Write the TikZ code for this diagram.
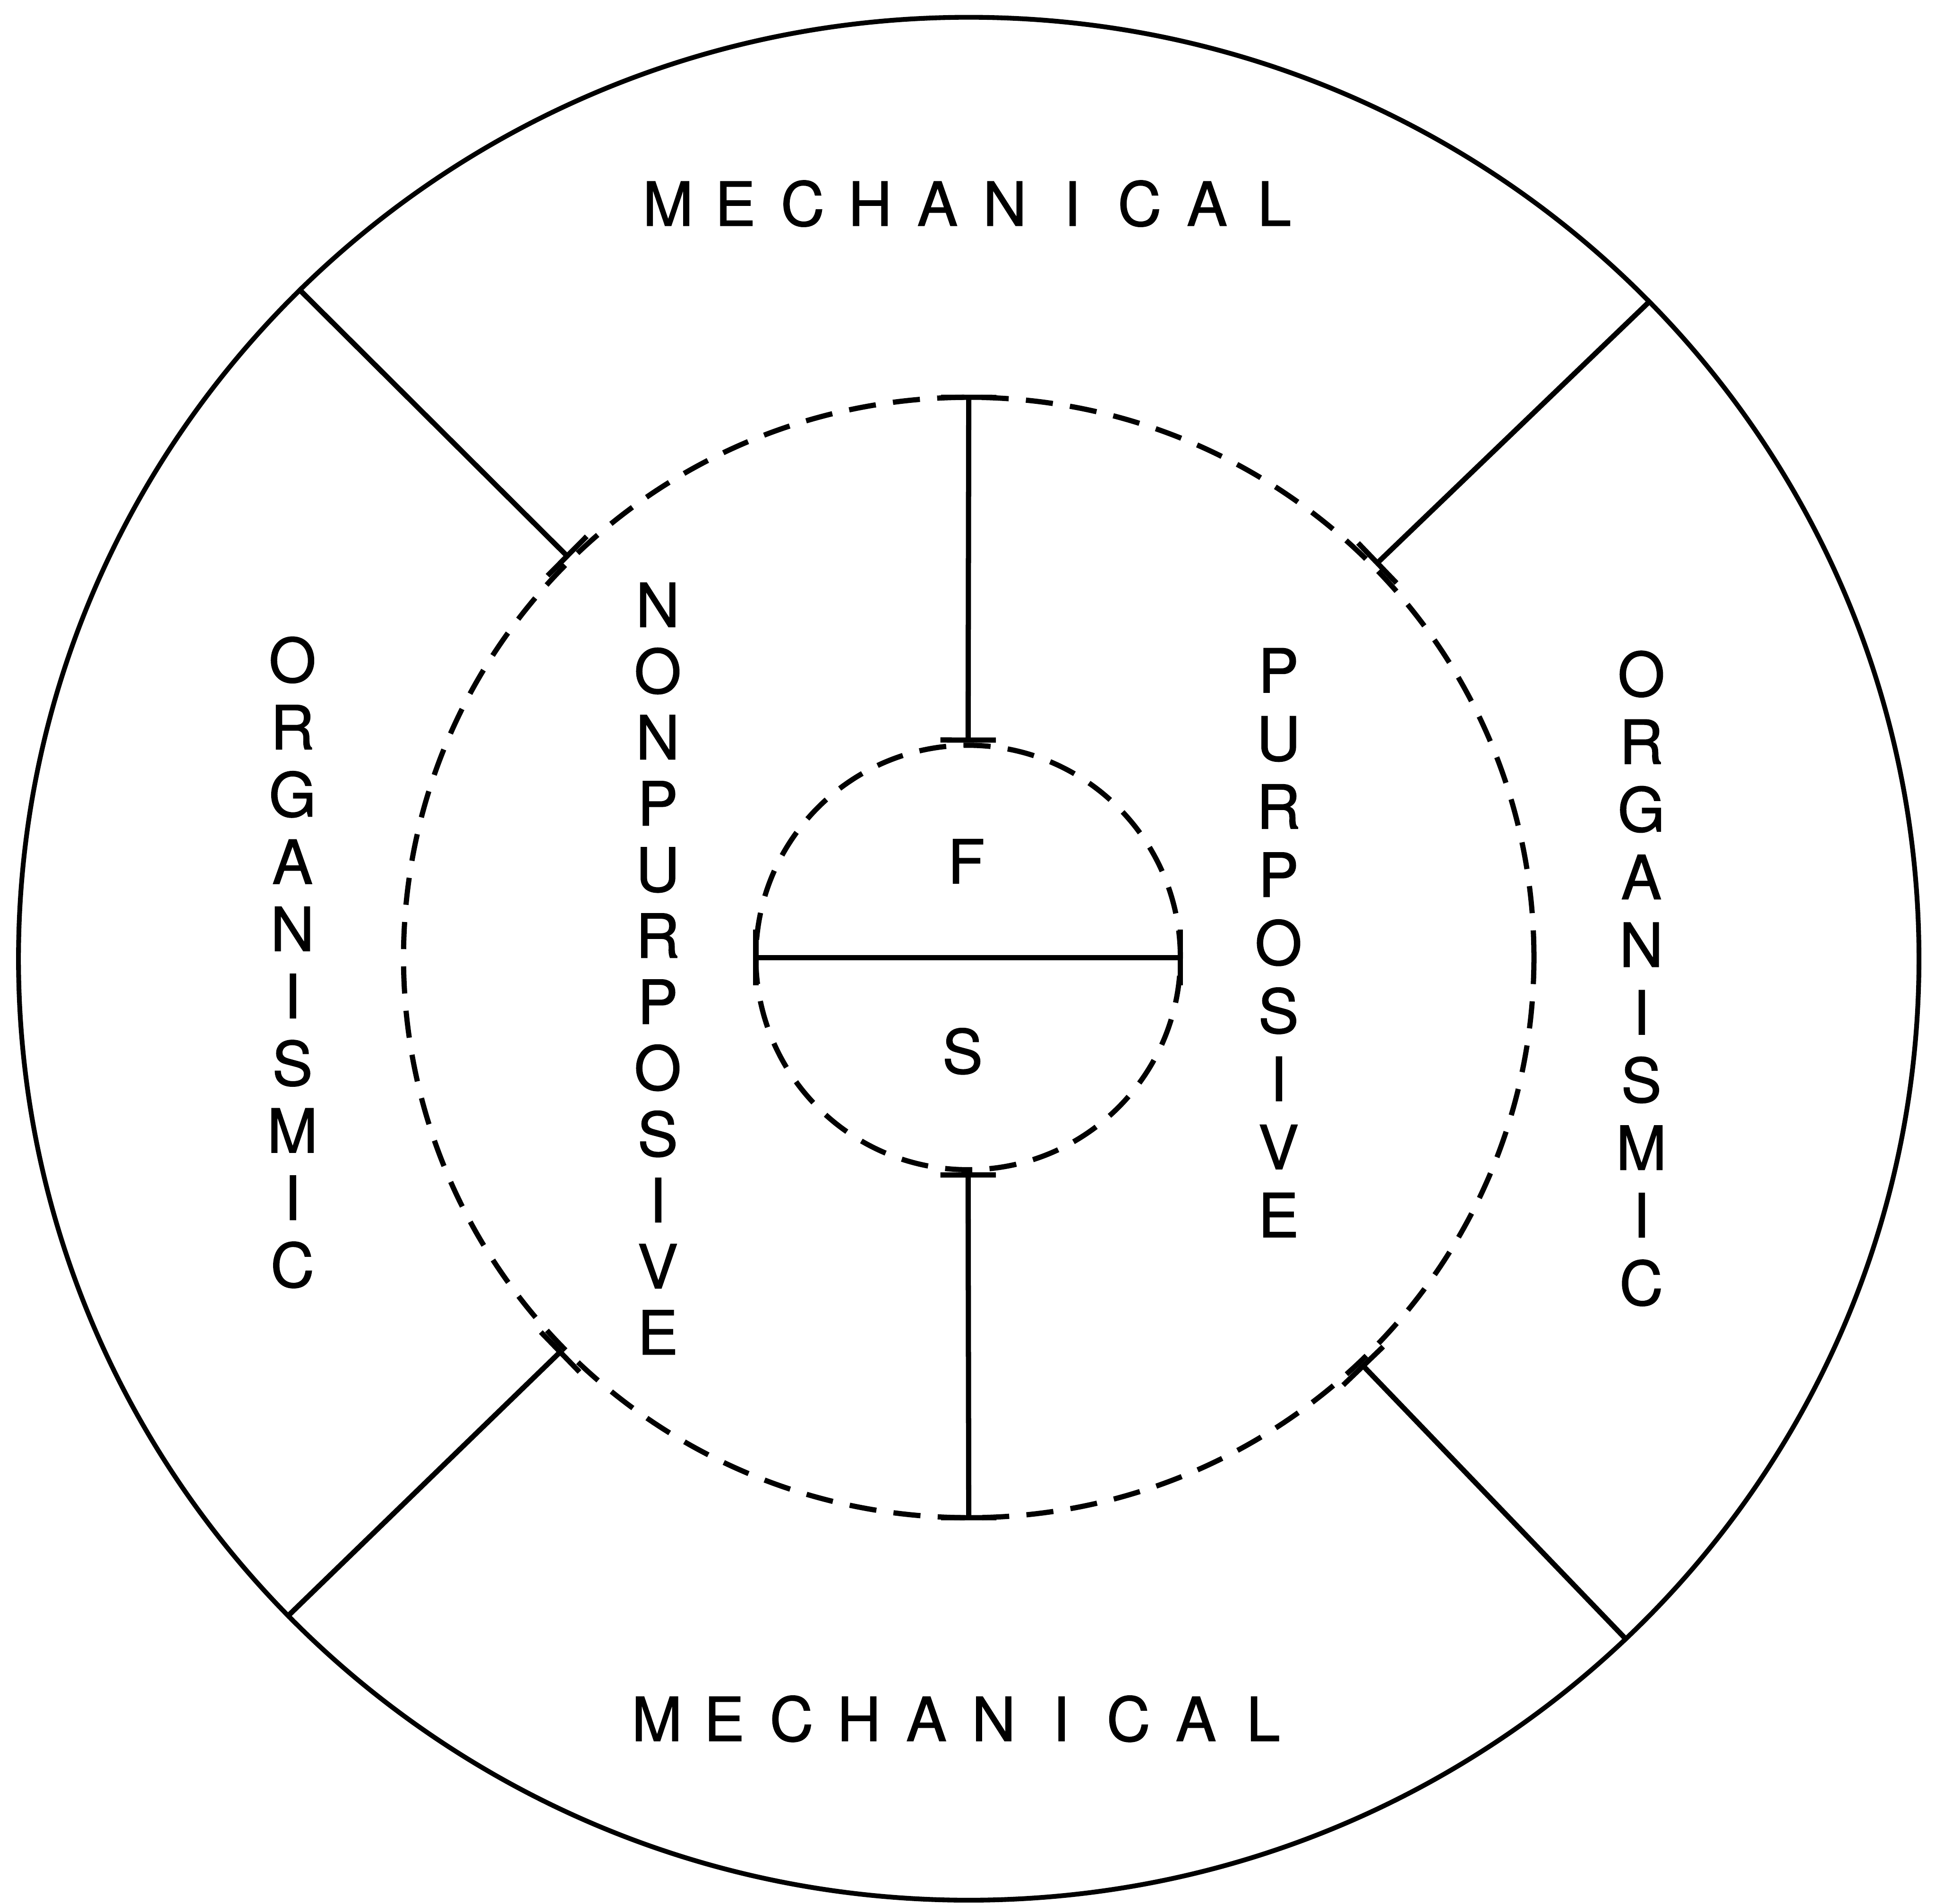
\documentclass[tikz,border=0pt]{standalone}
\usepackage{fontspec}
\setmainfont{TeX Gyre Heros}[BoldFont={TeX Gyre Heros}, BoldFeatures={FakeBold=1.2}]
\usepackage{tikz}
\usetikzlibrary{arrows.meta, shapes.geometric}

\newcommand{\letterrow}[1]{\foreach \ch in {#1}{\makebox[5.46mm]{\ch}}}

\begin{document}
\begin{tikzpicture}[
  every node/.style = {font=\bfseries\fontsize{14}{15.5}\selectfont, inner sep=0pt},
  ring/.style      = {ellipse, draw, line width=1.1pt},
  dashring/.style  = {draw, line width=1.2pt,
                      dash pattern=on 2.2mm off 1.4mm},
  vlabel/.style    = {align=center, font=\bfseries\fontsize{14}{#1}\selectfont},
  vlabel/.default  = 15.5pt,
  radial/.style    = {line width=1.2pt, -{Bar[width=4.5mm]}},
  tbar/.style      = {line width=1.2pt, {Bar[width=4.5mm]}-{Bar[width=4.5mm]}},
]
\useasboundingbox (-7.86,-7.71) rectangle (7.82,7.72);

%% ══ RINGS ═══════════════════════════════════════════════════════════════
\node[ring, minimum width=15.40cm, minimum height=15.26cm]
  at (-0.01, -0.05) (outer) {};
\node[dashring, ellipse, minimum width=9.16cm, minimum height=9.08cm]
  at (-0.01, -0.04) (mid) {};
\node[dashring, circle, minimum size=3.44cm] at (-0.015, -0.04) (inner) {};

%% ── Diagonal dividers: outer ring → middle ring ─────────────────────────
\draw[radial] (outer.135.5) -- (mid.135.5);
\draw[radial] (outer.44.3)  -- (mid.44.3);
\draw[radial] (outer.224.5) -- (mid.224.5);
\draw[radial] (outer.314.6) -- (mid.314.6);

%% ── Vertical bars and the inner diameter ────────────────────────────────
\draw[tbar] (mid.north)  -- (inner.north);
\draw[tbar] (inner.south) -- (mid.south);
\draw[tbar] (inner.west) -- (inner.east);

%% ══ LABELS ══════════════════════════════════════════════════════════════
\node at (0.01, 6.07)   (mechtop) {\letterrow{M,E,C,H,A,N,I,C,A,L}};
\node at (-0.08, -6.21) (mechbot) {\letterrow{M,E,C,H,A,N,I,C,A,L}};

\node[vlabel] at (-5.49, -0.08) (orgleft)
  {O\\R\\G\\A\\N\\I\\S\\M\\I\\C};
\node[vlabel=15.6pt] at (5.44, -0.21) (orgright)
  {O\\R\\G\\A\\N\\I\\S\\M\\I\\C};
\node[vlabel=15.25pt] at (-2.53, -0.13) (nonpurp)
  {N\\O\\N\\P\\U\\R\\P\\O\\S\\I\\V\\E};
\node[vlabel=15.7pt] at (2.50, 0.08) (purp)
  {P\\U\\R\\P\\O\\S\\I\\V\\E};

\node at (-0.03, 0.74)  (form)  {F};
\node at (-0.06, -0.80) (subst) {S};

\end{tikzpicture}
\end{document}
